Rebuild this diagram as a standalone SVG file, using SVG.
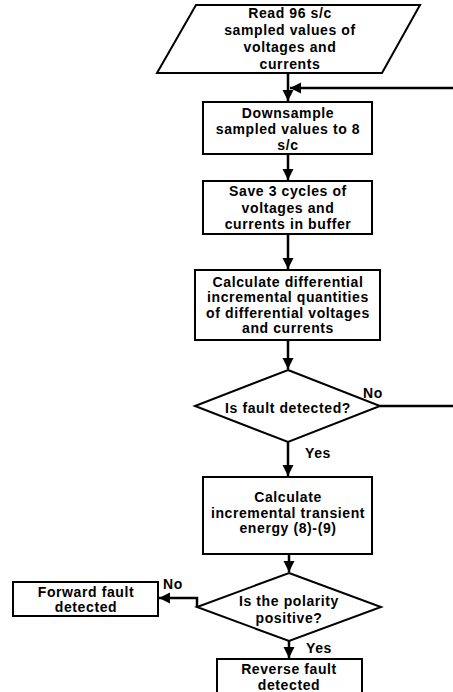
<svg xmlns="http://www.w3.org/2000/svg" width="453" height="692" viewBox="0 0 453 692">
<style>
.s{fill:#fff;stroke:#000;stroke-width:2}
.c{fill:none;stroke:#000;stroke-width:2.5}
text{font-family:"Liberation Sans",Arial,sans-serif;font-weight:bold;font-size:14px;letter-spacing:0.6px;text-anchor:middle;fill:#000}
</style>
<defs>
<marker id="ah" markerUnits="userSpaceOnUse" markerWidth="12" markerHeight="12" viewBox="0 0 12 12" refX="11" refY="6" orient="auto">
<path d="M0,0.5 L11,6 L0,11.5 Z" fill="#000"/>
</marker>
</defs>
<g id="connectors">
<line class="c" x1="288" y1="73" x2="288" y2="101" marker-end="url(#ah)"/>
<line class="c" x1="453" y1="88" x2="290" y2="88" marker-end="url(#ah)"/>
<line class="c" x1="288" y1="154" x2="288" y2="180" marker-end="url(#ah)"/>
<line class="c" x1="288" y1="234" x2="288" y2="269" marker-end="url(#ah)"/>
<line class="c" x1="288" y1="340" x2="288" y2="369" marker-end="url(#ah)"/>
<line class="c" x1="380" y1="406" x2="453" y2="406"/>
<line class="c" x1="288" y1="442" x2="288" y2="476" marker-end="url(#ah)"/>
<line class="c" x1="289" y1="554" x2="289" y2="572" marker-end="url(#ah)"/>
<polyline class="c" points="197,607 197,598 159,598" marker-end="url(#ah)"/>
<line class="c" x1="289" y1="641" x2="289" y2="658" marker-end="url(#ah)"/>
</g>
<g id="read">
<polygon class="s" points="196,5 420,5 382,73 157,73"/>
<text x="290" y="18">Read 96 s/c</text>
<text x="290" y="35">sampled values of</text>
<text x="290" y="52">voltages and</text>
<text x="290" y="69">currents</text>
</g>
<g id="downsample">
<rect class="s" x="203" y="102" width="169" height="52"/>
<text x="288" y="118">Downsample</text>
<text x="288" y="134">sampled values to 8</text>
<text x="288" y="150">s/c</text>
</g>
<g id="save">
<rect class="s" x="203" y="181" width="169" height="53"/>
<text x="288" y="196">Save 3 cycles of</text>
<text x="288" y="213">voltages and</text>
<text x="288" y="229">currents in buffer</text>
</g>
<g id="calcdiff">
<rect class="s" x="195" y="270" width="185" height="70"/>
<text x="288" y="287">Calculate differential</text>
<text x="288" y="302">incremental quantities</text>
<text x="288" y="318">of differential voltages</text>
<text x="288" y="333">and currents</text>
</g>
<g id="faultdetected">
<polygon class="s" points="288,370 380,406 288,442 195,406"/>
<text x="288" y="413">Is fault detected?</text>
<text x="373" y="398">No</text>
<text x="318" y="458">Yes</text>
</g>
<g id="calcenergy">
<rect class="s" x="203" y="477" width="169" height="77"/>
<text x="288" y="502">Calculate</text>
<text x="288" y="518">incremental transient</text>
<text x="288" y="533">energy (8)-(9)</text>
</g>
<g id="polarity">
<polygon class="s" points="289,573 381,607 289,641 197,607"/>
<text x="289" y="606">Is the polarity</text>
<text x="289" y="623">positive?</text>
<text x="173" y="589">No</text>
<text x="319" y="653">Yes</text>
</g>
<g id="forward">
<rect class="s" x="13" y="582" width="145" height="34"/>
<text x="86" y="597">Forward fault</text>
<text x="86" y="612">detected</text>
</g>
<g id="reverse">
<rect class="s" x="217" y="659" width="145" height="40"/>
<text x="289" y="674">Reverse fault</text>
<text x="289" y="690">detected</text>
</g>
</svg>
